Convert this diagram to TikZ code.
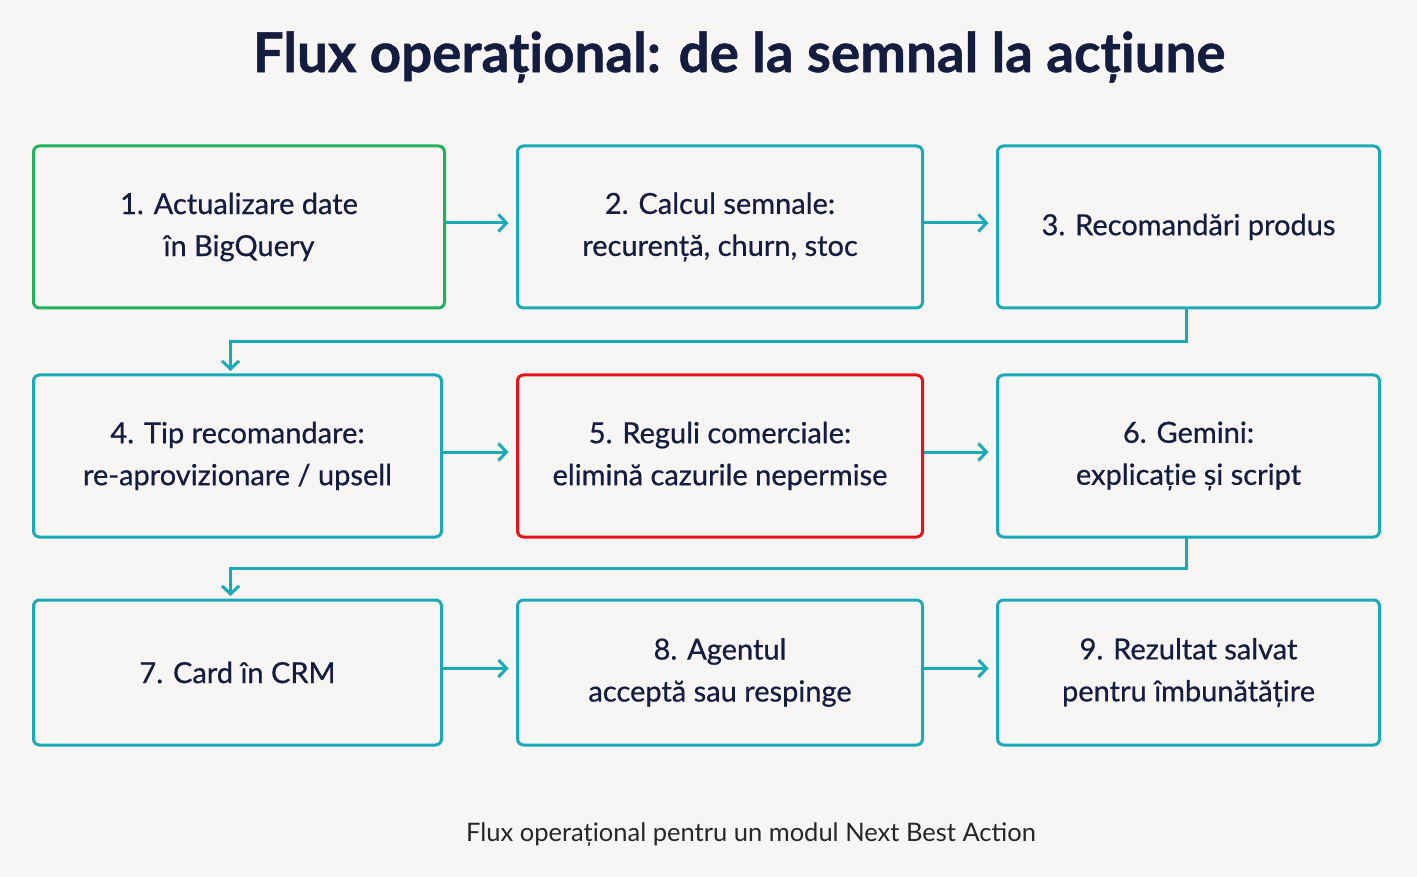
\documentclass[tikz,border=0pt]{standalone}
\usepackage{fontspec}
\setmainfont{Lato}
\newfontfamily\boxfont[FakeBold=0.6]{Lato}
\newfontfamily\titlefont[BoldFeatures={FakeBold=0.9}]{Lato}
\usepackage{xcolor}
\usetikzlibrary{arrows.meta, positioning}

\definecolor{bgpaper}{HTML}{F7F6F4}
\definecolor{inkblue}{HTML}{141C3F}
\definecolor{tealline}{HTML}{1AAAB6}
\definecolor{greenline}{HTML}{1FB25A}
\definecolor{redline}{HTML}{E3121C}

\begin{document}
\begin{tikzpicture}[x=1pt, y=-1pt]
        \tikzstyle{stepbox} = [rectangle, rounded corners=6pt, line width=3pt, outer sep=0pt, draw=tealline, minimum height=162pt, align=center, text=inkblue, font=\boxfont\fontsize{29}{42}\selectfont]
        \tikzstyle{okbox} = [stepbox, draw=greenline]
        \tikzstyle{alertbox} = [stepbox, draw=redline]
        \tikzstyle{flow} = [draw=tealline, line width=3pt, -{Straight Barb[length=8pt, width=17pt, line width=3pt]}]

        \fill[bgpaper] (0,0) rectangle (1417,877);
        \useasboundingbox (0,0) rectangle (1417,877);

        \node (title) at (739,57) [text=inkblue, font=\titlefont\fontsize{54.7}{64}\selectfont\bfseries] {Flux operațional: de la semnal la acțiune};

        \node (update) [okbox, minimum width=411pt] at (239,227) {1. Actualizare date\\în BigQuery};
        \node (signals) [stepbox, minimum width=405pt, right=73pt of update] {2. Calcul semnale:\\recurență, churn, stoc};
        \node (recs) [stepbox, minimum width=382pt, right=75pt of signals] {3. Recomandări produs};

        \node (kind) [stepbox, minimum width=408pt, below=67pt of update.south west, anchor=north west] {4. Tip recomandare:\\re-aprovizionare / upsell};
        \node (rules) [alertbox, minimum width=405pt, below=67pt of signals] {5. Reguli comerciale:\\elimină cazurile nepermise};
        \node (gemini) [stepbox, minimum width=382pt, below=67pt of recs] {6. Gemini:\\explicație și script};

        \node (card) [stepbox, minimum width=408pt, minimum height=145pt, below=63pt of kind] {7. Card în CRM};
        \node (agent) [stepbox, minimum width=405pt, minimum height=145pt, below=63pt of rules] {8. Agentul\\acceptă sau respinge};
        \node (saved) [stepbox, minimum width=382pt, minimum height=145pt, below=63pt of gemini] {9. Rezultat salvat\\pentru îmbunătățire};

        \node (caption) at (751,835) [text=black!85, font=\fontsize{25.5}{30}\selectfont] {Flux operațional pentru un modul Next Best Action};

        \draw [flow, shorten <=1.5pt, shorten >=9pt] ([yshift=4pt]update.east) -- ([yshift=4pt]signals.west);
        \draw [flow, shorten <=1.5pt, shorten >=9pt] ([yshift=4pt]signals.east) -- ([yshift=4pt]recs.west);
        \draw [flow, shorten <=1.5pt, shorten >=9pt] ([yshift=4pt]kind.east) -- ([yshift=4pt]rules.west);
        \draw [flow, shorten <=1.5pt, shorten >=9pt] ([yshift=4pt]rules.east) -- ([yshift=4pt]gemini.west);
        \draw [flow, shorten <=1.5pt, shorten >=9pt] ([yshift=4pt]card.east) -- ([yshift=4pt]agent.west);
        \draw [flow, shorten <=1.5pt, shorten >=9pt] ([yshift=4pt]agent.east) -- ([yshift=4pt]saved.west);
        \draw [flow, shorten >=4pt] ([xshift=-2pt]recs.south) -- ++(0,34) -| ([xshift=-7pt]kind.north);
        \draw [flow, shorten >=4pt] ([xshift=-2pt]gemini.south) -- ++(0,31) -| ([xshift=-7pt]card.north);
    \end{tikzpicture}
\end{document}
